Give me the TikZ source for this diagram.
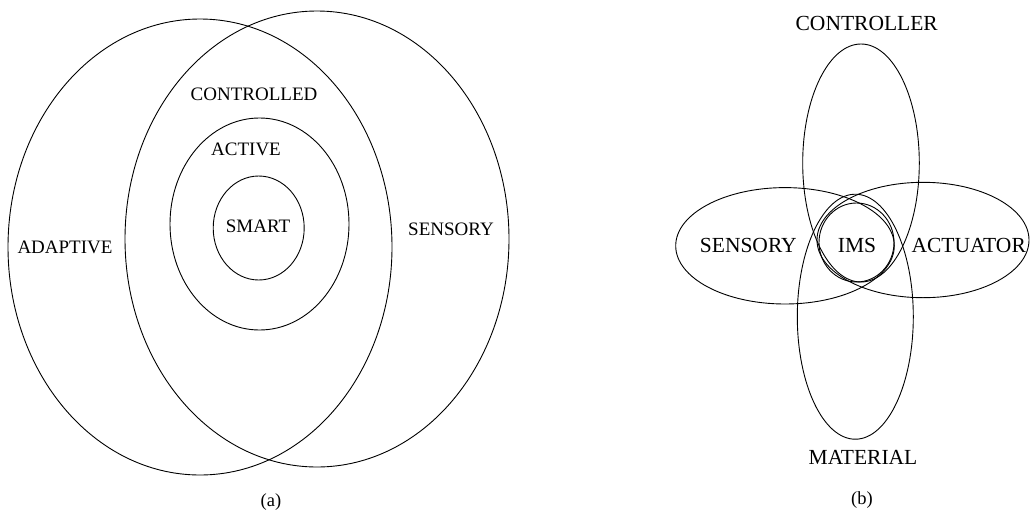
\documentclass[tikz,border=0pt]{standalone}
\usepackage{fontspec}
\setmainfont{Liberation Serif}
\usetikzlibrary{positioning}
\tikzset{
	set/.style={draw,line width=0.9pt},
	lbl/.style={inner sep=0pt,font=\fontsize{19}{22}\selectfont},
	biglbl/.style={inner sep=0pt,font=\fontsize{21.5}{24}\selectfont},
	subcap/.style={inner sep=0pt,font=\fontsize{18.5}{21}\selectfont}
}
\begin{document}
\begin{tikzpicture}[x=1pt,y=-1pt]
            \useasboundingbox (0,0) rectangle (1031,512);
            % (a)
            \draw[set] (200,247) ellipse [x radius=192, y radius=228];
            \draw[set] (317,239) ellipse [x radius=192, y radius=228];
            \draw[set] (259.5,224) ellipse [x radius=89.5, y radius=106];
            \draw[set] (258.7,228) ellipse [x radius=45.5, y radius=52];
            \node[lbl] (adaptive) at (65,247) {ADAPTIVE};
            \node[lbl] (sensorya) at (451,229) {SENSORY};
            \node[lbl] (controlled) at (254,94) {CONTROLLED};
            \node[lbl] (active) at (246,149) {ACTIVE};
            \node[lbl] (smart) at (258,226) {SMART};
            \node[subcap] (capa) at (271,502) {(a)};
            % (b)
            \draw[set] (861,163) ellipse [x radius=58.3, y radius=119];
            \draw[set] (855.3,316.7) ellipse [x radius=58, y radius=122.5];
            \draw[set] (785,245.8) ellipse [x radius=109.3, y radius=58.2];
            \draw[set] (923,240) ellipse [x radius=106, y radius=57.7];
            \draw[set] (856.5,242.5) ellipse [x radius=37.5, y radius=39.5];
            \node[biglbl] (controller) at (866.7,23) {CONTROLLER};
            \node[biglbl] (sensoryb) at (748.3,245) {SENSORY};
            \node[biglbl] (ims) at (857,245.7) {IMS};
            \node[biglbl] (actuator) at (968.7,245.7) {ACTUATOR};
            \node[biglbl] (material) at (863,457) {MATERIAL};
            \node[subcap] (capb) at (862,500) {(b)};
        \end{tikzpicture}
\end{document}
